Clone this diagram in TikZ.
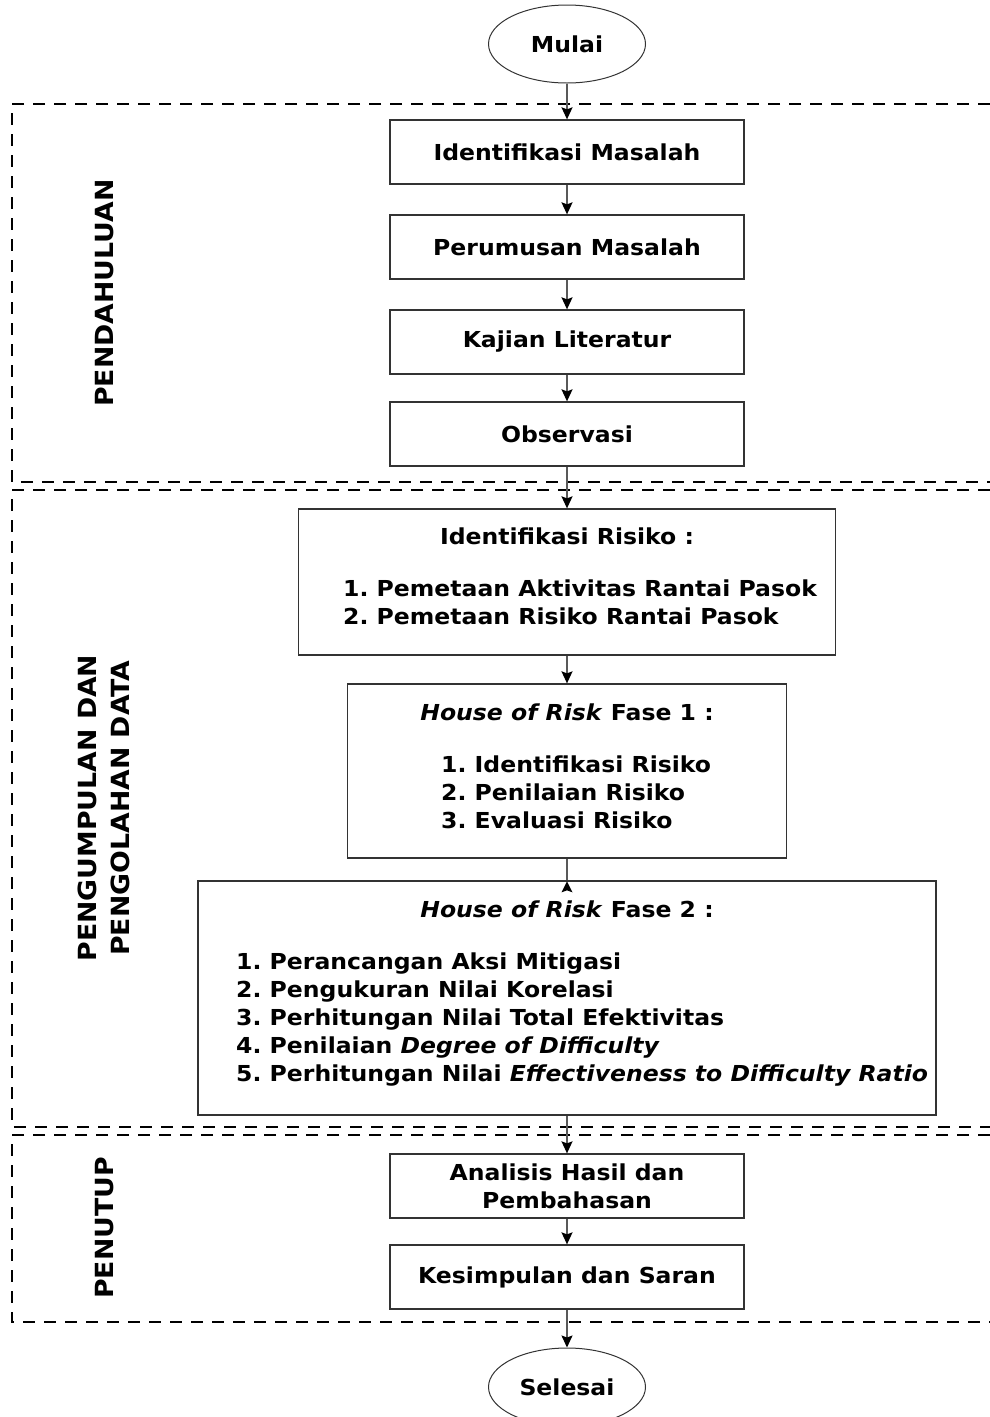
\documentclass[tikz,border=0pt]{standalone}
\usepackage{fontspec}
\setmainfont{DejaVu Sans}[FakeStretch=1.07]
\usetikzlibrary{arrows.meta,shapes.geometric}
\frenchspacing
\begin{document}
\begin{tikzpicture}[x=1pt,y=-1pt,
  every node/.style={font=\fontsize{22}{28}\selectfont\bfseries\frenchspacing, text=black},
  box/.style={draw=black!80, line width=1.3pt, inner sep=0pt, align=center},
  stdbox/.style={box, minimum width=354pt, minimum height=64pt},
  oval/.style={draw=black!80, line width=1pt, ellipse, inner sep=0pt, minimum width=157pt, minimum height=78pt},
  txt/.style={inner sep=0pt, anchor=base},
  item/.style={inner sep=0pt, anchor=base west},
  flow/.style={draw=black!65, line width=1.5pt, -{Stealth[length=12pt,width=11pt,inset=2pt,color=black]}},
  region/.style={draw=black, line width=1.3pt, dash pattern=on 12pt off 9pt},
  lbl/.style={rotate=90, font=\fontsize{25}{33}\selectfont\bfseries, align=center, inner sep=0pt}
]
\useasboundingbox (0,0) rectangle (990,1417);

% regions
\draw[region] (990,104) -| (12,482) -- (990,482);
\draw[region] (990,490) -| (12,1127) -- (990,1127);
\draw[region] (990,1135) -| (12,1322) -- (990,1322);

\node[lbl] (lpend) at (105,293) {PENDAHULUAN};
\node[lbl] (lpeng) at (104,808) {PENGUMPULAN DAN\\PENGOLAHAN DATA};
\node[lbl] (lpen) at (105,1228) {PENUTUP};

% nodes
\node[oval] (mulai) at (567,44) {Mulai};
\node[stdbox] (im) at (567,152) {Identifikasi Masalah};
\node[stdbox] (pm) at (567,247) {Perumusan Masalah};
\node[stdbox] (kl) at (567,342) {Kajian Literatur};
\node[stdbox] (ob) at (567,434) {Observasi};

\node[box, minimum width=537pt, minimum height=146pt] (ir) at (567,582) {};
\node[txt] (irt) at (567,544) {Identifikasi Risiko :};
\node[item] (ir1) at (343,596) {1. Pemetaan Aktivitas Rantai Pasok};
\node[item] (ir2) at (343,624) {2. Pemetaan Risiko Rantai Pasok};

\node[box, minimum width=439pt, minimum height=174pt] (ha) at (567,771) {};
\node[txt] (hat) at (567,720) {\textit{House of Risk} Fase 1 :};
\node[item] (ha1) at (441,772) {1. Identifikasi Risiko};
\node[item] (ha2) at (441,800) {2. Penilaian Risiko};
\node[item] (ha3) at (441,828) {3. Evaluasi Risiko};

\node[box, minimum width=738pt, minimum height=234pt] (hb) at (567,998) {};
\node[txt] (hbt) at (567,917) {\textit{House of Risk} Fase 2 :};
\node[item] (hb1) at (236,969) {1. Perancangan Aksi Mitigasi};
\node[item] (hb2) at (236,997) {2. Pengukuran Nilai Korelasi};
\node[item] (hb3) at (236,1025) {3. Perhitungan Nilai Total Efektivitas};
\node[item] (hb4) at (236,1053) {4. Penilaian \textit{Degree of Difficulty}};
\node[item] (hb5) at (236,1081) {5. Perhitungan Nilai \textit{Effectiveness to Difficulty Ratio}};

\node[stdbox] (an) at (567,1186) {};
\node[txt] (ant1) at (567,1180) {Analisis Hasil dan};
\node[txt] (ant2) at (567,1208) {Pembahasan};
\node[stdbox] (ks) at (567,1277) {Kesimpulan dan Saran};
\node[oval] (sel) at (567,1387) {Selesai};

% connectors
\draw[flow] (mulai) -- (im);
\draw[flow] (im) -- (pm);
\draw[flow] (pm) -- (kl);
\draw[flow] (kl) -- (ob);
\draw[flow] (ob) -- (ir);
\draw[flow] (ir) -- (ha);
\draw[draw=black!65, line width=1.5pt] (ha) -- (hb);
\fill[black] ([yshift=-1pt]hb.north) -- ++(-5.5,11) -- ++(5.5,-2) -- ++(5.5,2) -- cycle;
\draw[flow] (hb) -- (an);
\draw[flow] (an) -- (ks);
\draw[flow] (ks) -- (sel);
\end{tikzpicture}
\end{document}
